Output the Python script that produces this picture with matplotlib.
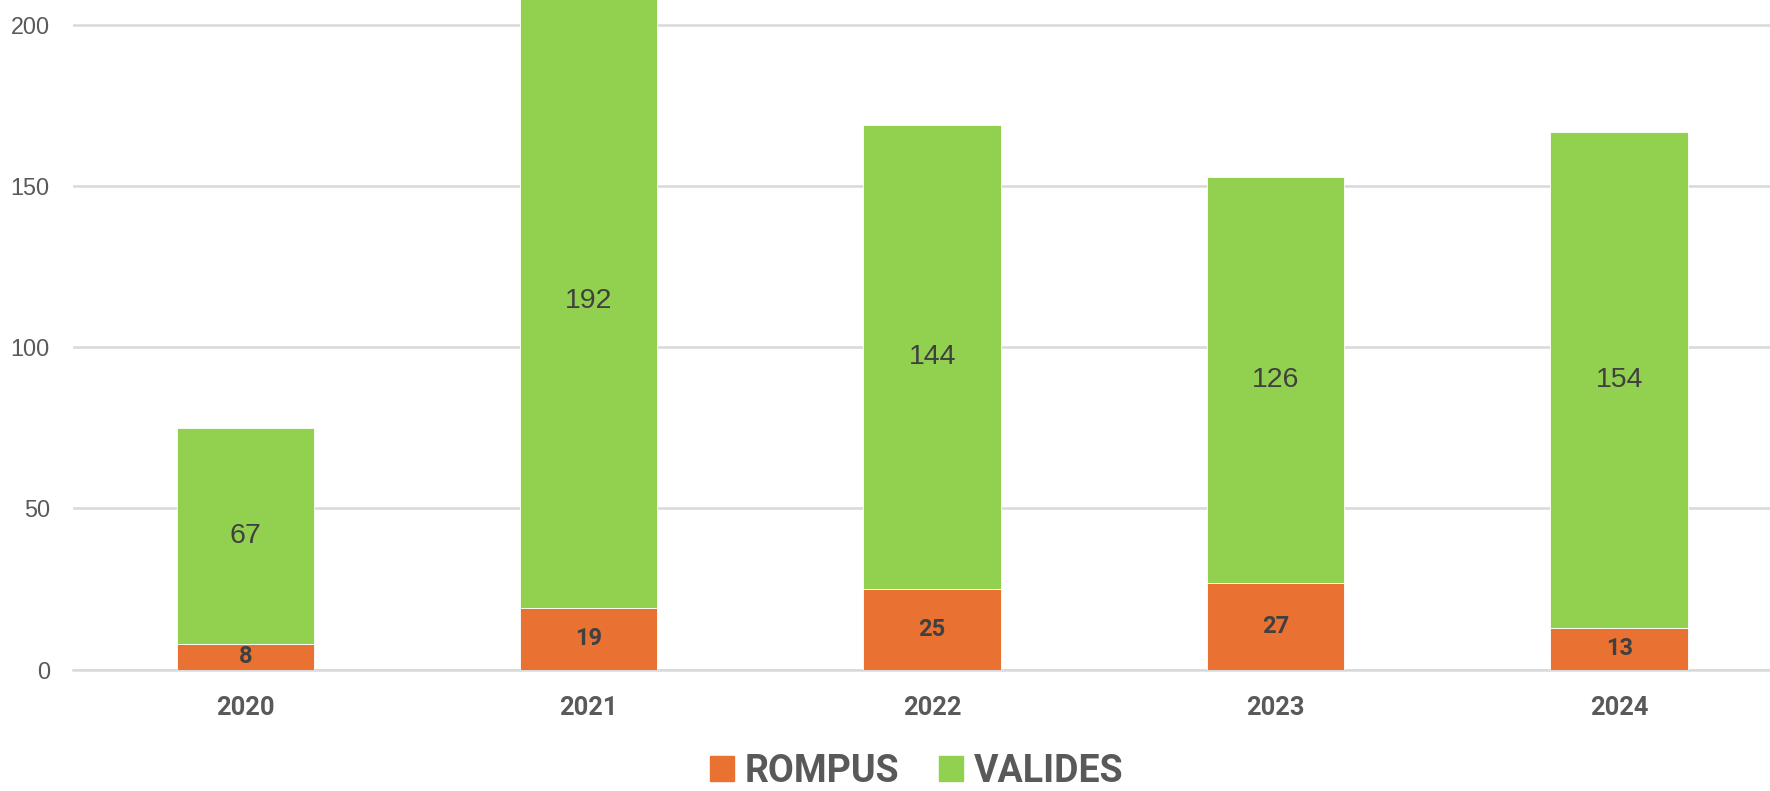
import matplotlib.pyplot as plt
from matplotlib.patches import Patch

years = ['2020', '2021', '2022', '2023', '2024']
rompus = [8, 19, 25, 27, 13]
valides = [67, 192, 144, 126, 154]

orange = '#E97132'
green = '#92D050'
text_grey = '#595959'
label_grey = '#404040'

fig = plt.figure(figsize=(17.7, 7.91), dpi=100)
# plot area runs past the right and top edges of the figure
ax = fig.add_axes([0.0415, 0.1536, 0.9703, 0.855])

x = range(len(years))
b1 = ax.bar(x, rompus, width=0.4, color=orange, edgecolor='white', linewidth=0.6, zorder=3)
b2 = ax.bar(x, valides, width=0.4, bottom=rompus, color=green, edgecolor='white', linewidth=0.6, zorder=3)

ax.bar_label(b1, labels=[str(v) for v in rompus], label_type='center',
             fontsize=17, fontweight='bold', color=label_grey, family='Roboto')
ax.bar_label(b2, labels=[str(v) for v in valides], label_type='center',
             fontsize=20.5, color=label_grey, family='Liberation Sans')

ax.set_xlim(-0.5, len(years) - 0.5)
ax.set_ylim(0, 210)
ax.set_yticks([0, 50, 100, 150, 200])
ax.set_xticks(list(x))
ax.set_xticklabels(years, fontsize=18.4, fontweight='bold', color=text_grey, family='Roboto')
for lbl in ax.get_yticklabels():
    lbl.set_fontsize(16.8)
    lbl.set_color(text_grey)
    lbl.set_family('Liberation Sans')

ax.tick_params(axis='y', length=0, pad=17)
ax.tick_params(axis='x', length=0, pad=19)
ax.grid(axis='y', color='#D9D9D9', linewidth=1.8, zorder=0)
for s in ['top', 'right', 'left']:
    ax.spines[s].set_visible(False)
ax.spines['bottom'].set_color('#D9D9D9')
ax.spines['bottom'].set_linewidth(1.8)

handles = [Patch(color=orange, label='ROMPUS'), Patch(color=green, label='VALIDES')]
fig.legend(handles=handles, loc='center', bbox_to_anchor=(0.518, 0.025), ncol=2,
           frameon=False, handlelength=0.64, handleheight=0.64, handletextpad=0.3,
           columnspacing=1.05, prop={'family': 'Roboto', 'weight': 'bold', 'size': 27},
           labelcolor=text_grey)

fig.savefig('out.png', dpi=100)
